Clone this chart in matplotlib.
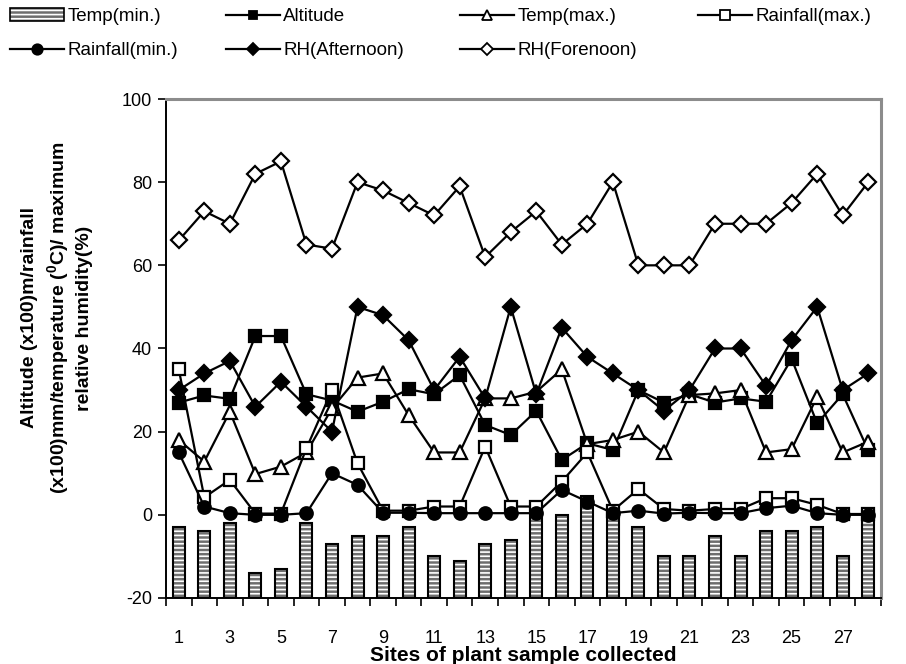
import numpy as np
import matplotlib
matplotlib.use("Agg")
import matplotlib.pyplot as plt
from matplotlib.lines import Line2D
from matplotlib.patches import Patch
from matplotlib.legend_handler import HandlerTuple

plt.rcParams['font.family'] = ['Liberation Sans', 'DejaVu Sans']
plt.rcParams['mathtext.fontset'] = 'custom'
plt.rcParams['mathtext.rm'] = 'Liberation Sans'
plt.rcParams['mathtext.bf'] = 'Liberation Sans:bold'
plt.rcParams['hatch.linewidth'] = 1.2
plt.rcParams['axes.unicode_minus'] = False

sites = list(range(1, 29))
xtick_labels = [str(s) for s in sites if s % 2 == 1]

temp_min = [-3, -4, -2, -14, -13, -2, -7, -5, -5, -3, -10, -11, -7, -6, 0, 0, 4.5, 1,
            -3, -10, -10, -5, -10, -4, -4, -3, -10, 1]
altitude = [27, 28.7, 27.9, 43, 43, 29, 27.5, 24.8, 27.2, 30.2, 29, 33.6, 21.6, 19.2,
            25, 13.2, 17.2, 15.6, 30, 27, 29, 27, 28, 27.2, 37.5, 22, 29, 15.5]
temp_max = [18, 12.8, 24.8, 9.8, 11.6, 15, 25.6, 33, 34, 24, 15, 15, 28, 28, 29.6, 35,
            17, 18, 20, 15, 28.8, 29.2, 30, 15, 15.8, 28.4, 15, 17.6]
rain_max = [35, 4.2, 8.4, 0.3, 0.3, 16, 30, 12.4, 1, 1, 2, 2, 16.4, 2, 2, 8, 15, 1,
            6.2, 1.4, 1, 1.4, 1.4, 4, 4, 2.4, 0.2, 0.2]
rain_min = [15, 2, 0.4, 0, 0, 0.4, 10, 7.2, 0.5, 0.5, 0.4, 0.4, 0.4, 0.4, 0.4, 6, 3.2,
            0.4, 1, 0.3, 0.5, 0.4, 0.4, 1.6, 2.2, 0.4, 0, 0]
rh_after = [30, 34, 37, 26, 32, 26, 20, 50, 48, 42, 30, 38, 28, 50, 29, 45, 38, 34, 30,
            25, 30, 40, 40, 31, 42, 50, 30, 34]
rh_fore = [66, 73, 70, 82, 85, 65, 64, 80, 78, 75, 72, 79, 62, 68, 73, 65, 70, 80, 60,
           60, 60, 70, 70, 70, 75, 82, 72, 80]

fig = plt.figure(figsize=(9.06, 6.64), dpi=100)
ax = fig.add_axes([166 / 906, 1 - 598 / 664, (881 - 166) / 906, (598 - 99) / 664])

x = np.array(sites)
base = -20
heights = np.array(temp_min) - base
bar_face = '#6e6e6e'
hatch = '----'
ax.bar(x, heights, bottom=base, width=0.47, color=bar_face, edgecolor='white',
       hatch=hatch, linewidth=0, zorder=2)
ax.bar(x, heights, bottom=base, width=0.47, fill=False, edgecolor='black',
       linewidth=1.5, zorder=3)

lw = 1.6
mew = 1.6
ax.plot(x, altitude, color='black', lw=lw, marker='s', ms=8, mfc='black', mec='black', mew=mew, zorder=4)
ax.plot(x, temp_max, color='black', lw=lw, marker='^', ms=10, mfc='white', mec='black', mew=mew, zorder=4)
ax.plot(x, rain_max, color='black', lw=lw, marker='s', ms=9, mfc='white', mec='black', mew=mew, zorder=4)
ax.plot(x, rain_min, color='black', lw=lw, marker='o', ms=9, mfc='black', mec='black', mew=mew, zorder=4)
ax.plot(x, rh_after, color='black', lw=lw, marker='D', ms=8.5, mfc='black', mec='black', mew=mew, zorder=4)
ax.plot(x, rh_fore, color='black', lw=lw, marker='D', ms=8.5, mfc='white', mec='black', mew=mew, zorder=4)

ax.set_xlim(0.5, 28.5)
ax.set_ylim(-20, 100)
ax.set_yticks(np.arange(-20, 101, 20))
ax.set_xticks([s for s in sites if s % 2 == 1])
ax.set_xticklabels(xtick_labels)
ax.set_xticks(np.arange(0.5, 28.6, 1), minor=True)
ax.tick_params(axis='x', which='major', length=0, pad=23, labelsize=13)
ax.tick_params(axis='x', which='minor', length=6, width=1.2, direction='out')
ax.tick_params(axis='y', which='major', length=6, width=1.2, direction='out', labelsize=13, pad=4)

for s in ['left', 'bottom']:
    ax.spines[s].set_color('black')
    ax.spines[s].set_linewidth(1.4)
for s in ['top', 'right']:
    ax.spines[s].set_color('#8c8c8c')
    ax.spines[s].set_linewidth(2.2)

ax.set_xlabel('Sites of plant sample collected', fontsize=15, fontweight='bold', labelpad=-1)

fig.text(57 / 906, 1 - 318 / 664,
         'Altitude (x100)m/rainfall\n(x100)mm/temperature ($\\mathbf{^{0}}$C)/ maximum\nrelative humidity(%)',
         rotation=90, ha='center', va='center', multialignment='center',
         fontsize=14, fontweight='bold', linespacing=1.4)

def lh(marker, mfc, ms):
    return Line2D([], [], color='black', lw=1.6, marker=marker, ms=ms, mfc=mfc, mec='black', mew=1.3)

bar_handle = (Patch(facecolor=bar_face, edgecolor='white', hatch=hatch, linewidth=0),
              Patch(fill=False, edgecolor='black', linewidth=1.2))
h_alt = lh('s', 'black', 6)
h_tmax = lh('^', 'white', 7)
h_rmax = lh('s', 'white', 7)
h_rmin = lh('o', 'black', 7.5)
h_rha = lh('D', 'black', 6)
h_rhf = lh('D', 'white', 6)

columns = [
    (10, [bar_handle, h_rmin], ['Temp(min.)', 'Rainfall(min.)']),
    (226, [h_alt, h_rha], ['Altitude', 'RH(Afternoon)']),
    (460, [h_tmax, h_rhf], ['Temp(max.)', 'RH(Forenoon)']),
    (698, [h_rmax], ['Rainfall(max.)']),
]
for xpix, hs, ls in columns:
    fig.legend(hs, ls, ncol=1, loc='upper left',
               bbox_to_anchor=(xpix / 906, 1 - 8 / 664),
               frameon=False, fontsize=13.5, handlelength=2.9, handletextpad=0.15,
               labelspacing=0.9, borderaxespad=0.0, borderpad=0.0,
               handler_map={tuple: HandlerTuple(ndivide=1)})

fig.savefig('out.png', dpi=100)
